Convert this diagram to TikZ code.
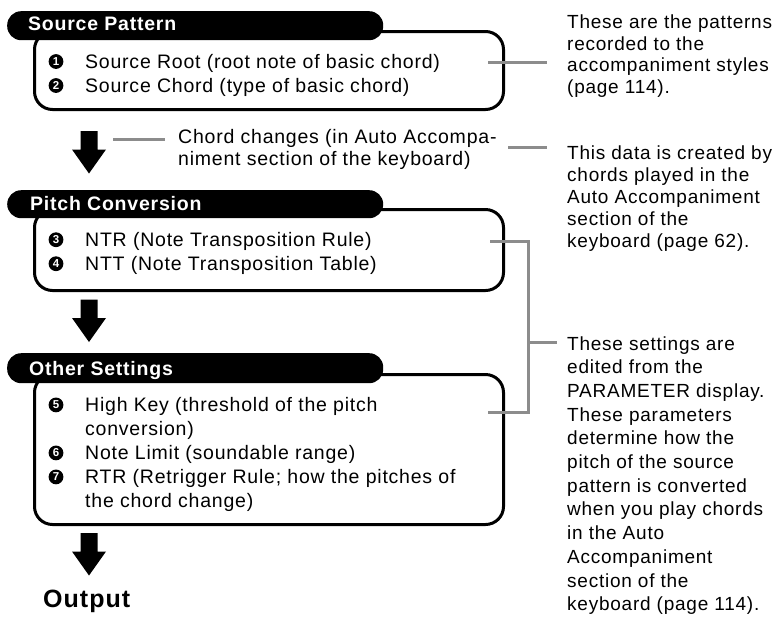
\documentclass[tikz,border=0pt]{standalone}
\usepackage{fontspec}
\setmainfont{Liberation Sans}[LetterSpace=4]
\definecolor{gline}{RGB}{140,140,140}
\tikzset{
  boxframe/.style={draw=black, line width=3pt, rounded corners=18pt, anchor=north west, inner sep=0pt},
  tabshape/.style={fill=black, rounded corners=14pt, anchor=north west, inner sep=0pt},
  tabtext/.style={anchor=base west, inner sep=0pt, text=white, font=\bfseries\fontsize{19.5}{24}\selectfont},
  itemtext/.style={anchor=base west, inner sep=0pt, font=\fontsize{19.5}{24}\selectfont},
  num/.style={inner sep=0pt, text=white, font=\bfseries\fontsize{11.5}{11.5}\selectfont},
  note/.style={anchor=base west, inner sep=0pt, font=\fontsize{19}{22}\selectfont},
  gray line/.style={draw=gline, line width=3pt},
  downarrow/.pic={\fill[black] (-8.5,0) -- (8.5,0) -- (8.5,18.5) -- (17,18.5) -- (0,42.5) -- (-17,18.5) -- (-8.5,18.5) -- cycle;}
}
\newcommand{\numdot}[3]{\fill[black] (#2) circle[radius=7.4pt]; \node[num] (#1) at (#2) {#3};}
\begin{document}
\begin{tikzpicture}[x=1pt,y=-1pt]
\useasboundingbox (0,0) rectangle (778,630);

% ---- Source Pattern ----
\node[boxframe, minimum width=469pt, minimum height=78pt] (b1) at (33,30) {};
\node[tabshape, minimum width=376pt, minimum height=29pt] (t1) at (7,11) {};
\node[tabtext] (t1text) at (28,30.7) {Source Pattern};
\numdot{n1}{56,61.5}{1}
\node[itemtext] (i1) at (85,68.3) {Source Root (root note of basic chord)};
\numdot{n2}{56,85.5}{2}
\node[itemtext] (i2) at (85,92.3) {Source Chord (type of basic chord)};

% arrow 1 and chord changes
\pic (a1) at (89,131) {downarrow};
\coordinate (g0a) at (113,139);
\coordinate (g0b) at (165,139);
\draw[gray line] (g0a) -- (g0b);
\node[itemtext] (cc1) at (178,143) {Chord changes (in Auto Accompa-};
\node[itemtext] (cc2) at (178,165) {niment section of the keyboard)};

% ---- Pitch Conversion ----
\node[boxframe, minimum width=469pt, minimum height=81pt] (b2) at (33,208) {};
\node[tabshape, minimum width=376pt, minimum height=28pt] (t2) at (7,190) {};
\node[tabtext] (t2text) at (30,210.5) {Pitch Conversion};
\numdot{n3}{56,239.7}{3}
\node[itemtext] (i3) at (85,246.5) {NTR (Note Transposition Rule)};
\numdot{n4}{56,263.7}{4}
\node[itemtext] (i4) at (85,270.5) {NTT (Note Transposition Table)};

\pic (a2) at (89,299.5) {downarrow};

% ---- Other Settings ----
\node[boxframe, minimum width=469pt, minimum height=150pt] (b3) at (33,373) {};
\node[tabshape, minimum width=376pt, minimum height=30pt] (t3) at (7,353) {};
\node[tabtext] (t3text) at (29,375) {Other Settings};
\numdot{n5}{56,404.9}{5}
\node[itemtext] (i5a) at (85,411.7) {High Key (threshold of the pitch};
\node[itemtext] (i5b) at (85,435.7) {conversion)};
\numdot{n6}{56,452.9}{6}
\node[itemtext] (i6) at (85,459.7) {Note Limit (soundable range)};
\numdot{n7}{56,476.9}{7}
\node[itemtext] (i7a) at (85,483.7) {RTR (Retrigger Rule; how the pitches of};
\node[itemtext] (i7b) at (85,507.7) {the chord change)};

\pic (a3) at (89,533) {downarrow};
\node[anchor=base west, inner sep=0pt, font=\bfseries\fontsize{25}{30}\selectfont] (out) at (43,607) {Output};

% ---- right notes ----
\coordinate (g1a) at (488,62);
\coordinate (g1b) at (547,62);
\draw[gray line] (g1a) -- (g1b);
\foreach \t [count=\i from 0] in {These are the patterns, recorded to the, accompaniment styles, (page 114).}
  \node[note] (p1-\i) at (567,28.3+21.7*\i) {\t};

\coordinate (g2a) at (508,147);
\coordinate (g2b) at (547,147);
\draw[gray line] (g2a) -- (g2b);
\foreach \t [count=\i from 0] in {This data is created by, chords played in the, Auto Accompaniment, section of the, keyboard (page 62).}
  \node[note] (p2-\i) at (567,159.5+22*\i) {\t};

\coordinate (g3a) at (490,241);
\coordinate (g3c) at (488,412);
\coordinate (g3m) at (528,342);
\coordinate (g3e) at (557,342);
\draw[gray line] (g3a) -| (g3m) |- (g3c);
\draw[gray line] (g3m) -- (g3e);
\foreach \t [count=\i from 0] in {These settings are, edited from the, PARAMETER display., These parameters, determine how the, pitch of the source, pattern is converted, when you play chords, in the Auto, Accompaniment, section of the, keyboard (page 114).}
  \node[note] (p3-\i) at (567,350+23.7*\i) {\t};
\end{tikzpicture}
\end{document}
